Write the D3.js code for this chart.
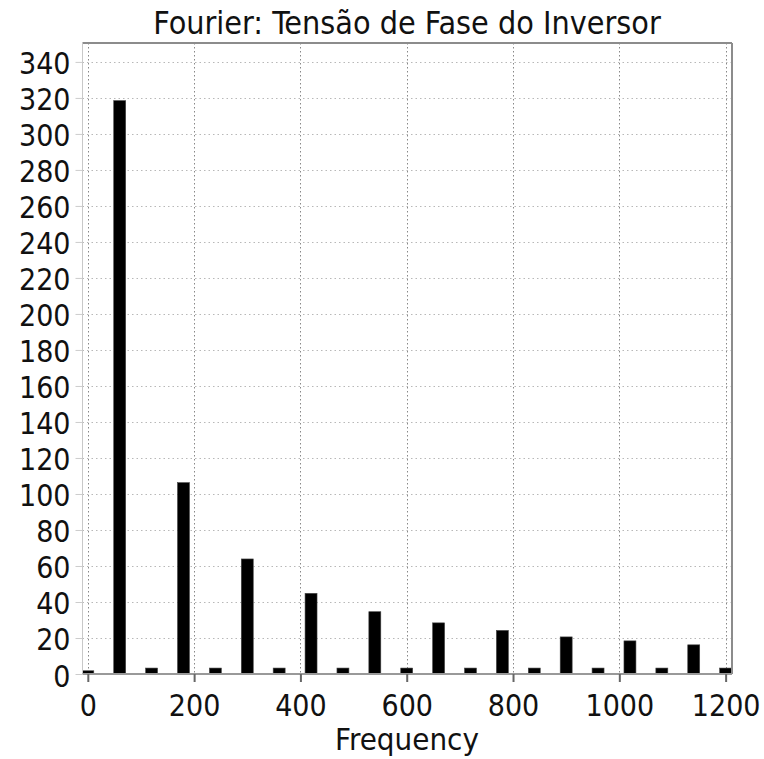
<!DOCTYPE html>
<html>
<head>
<meta charset="utf-8">
<script src="https://cdn.jsdelivr.net/npm/d3@7/dist/d3.min.js"></script>
<style>
  html, body { margin: 0; padding: 0; background: #fff; }
  svg { display: block; }
  text { font-family: "DejaVu Sans Condensed", "DejaVu Sans", sans-serif; fill: #111; }
</style>
</head>
<body>
<svg id="chart" width="764" height="759"></svg>
<script>
// Harmonic spectrum of the inverter phase voltage (amplitude per frequency bin)
const frequencies = [0, 60, 120, 180, 240, 300, 360, 420, 480, 540, 600, 660, 720, 780, 840, 900, 960, 1020, 1080, 1140, 1200];
const amplitudes  = [1.8, 318.5, 3.3, 106.3, 3.3, 63.9, 3.3, 44.8, 3.3, 34.6, 3.3, 28.4, 3.3, 24.2, 3.3, 20.6, 3.3, 18.4, 3.3, 16.2, 3.3];
const xTicks = [0, 200, 400, 600, 800, 1000, 1200];
const yTicks = d3.range(0, 341, 20);
const titleText = "Fourier: Tensão de Fase do Inversor";
const xLabel = "Frequency";

const svg = d3.select("#chart");
const plotL = 82.5, plotR = 732, plotT = 43, plotB = 674;

const x = d3.scaleLinear().domain([-10, 1212]).range([plotL, plotR]);
const y = d3.scaleLinear().domain([0, 350.5]).range([plotB, plotT]);
const barW = x(22.5) - x(0);
const fontStack = "DejaVu Sans Condensed, DejaVu Sans, sans-serif";

svg.append("defs").append("clipPath").attr("id", "plot")
  .append("rect").attr("x", plotL).attr("y", plotT).attr("width", plotR - plotL).attr("height", plotB - plotT);

// horizontal grid
svg.append("g").selectAll("line").data(yTicks.filter(d => d > 0)).join("line")
  .attr("x1", plotL).attr("x2", plotR)
  .attr("y1", d => Math.round(y(d)) + 0.5).attr("y2", d => Math.round(y(d)) + 0.5)
  .attr("stroke", "#b8b8b8").attr("stroke-width", 1).attr("stroke-dasharray", "1.5,3");

// vertical grid
svg.append("g").selectAll("line").data(xTicks).join("line")
  .attr("x1", d => Math.round(x(d)) + 0.5).attr("x2", d => Math.round(x(d)) + 0.5)
  .attr("y1", plotT).attr("y2", plotB)
  .attr("stroke", "#888").attr("stroke-width", 1).attr("stroke-dasharray", "1.5,2.5");

// bars
svg.append("g").attr("clip-path", "url(#plot)")
  .selectAll("rect").data(frequencies.map((f, i) => ({ f, a: amplitudes[i] }))).join("rect")
  .attr("x", d => x(d.f) - barW / 2)
  .attr("width", barW)
  .attr("y", d => y(d.a))
  .attr("height", d => y(0) - y(d.a))
  .attr("fill", "#000")
  .attr("stroke", "#444").attr("stroke-width", 0.6);

// frame
svg.append("line").attr("x1", plotL).attr("x2", plotR).attr("y1", plotT).attr("y2", plotT)
  .attr("stroke", "#8c8c8c").attr("stroke-width", 2);
svg.append("line").attr("x1", plotR).attr("x2", plotR).attr("y1", plotT).attr("y2", plotB)
  .attr("stroke", "#8c8c8c").attr("stroke-width", 2);
svg.append("line").attr("x1", plotL).attr("x2", plotL).attr("y1", plotT).attr("y2", plotB)
  .attr("stroke", "#c8c8c8").attr("stroke-width", 1);

// x axis
const xAxis = d3.axisBottom(x).tickValues(xTicks).tickFormat(d3.format("d"))
  .tickSize(8).tickPadding(13).tickSizeOuter(0);
const gx = svg.append("g").attr("transform", `translate(0,${plotB})`).call(xAxis);
gx.select(".domain").attr("stroke", "#999").attr("stroke-width", 2).attr("d", `M${plotL},0H${plotR}`);
gx.selectAll(".tick line").attr("stroke", "#666").attr("stroke-width", 2);
gx.selectAll(".tick text").attr("font-size", 30).attr("fill", "#111").attr("font-family", fontStack);

// y axis
const yAxis = d3.axisLeft(y).tickValues(yTicks).tickFormat(d3.format("d"))
  .tickSize(7).tickPadding(5).tickSizeOuter(0);
const gy = svg.append("g").attr("transform", `translate(${plotL},0)`).call(yAxis);
gy.select(".domain").remove();
gy.selectAll(".tick line").attr("stroke", "#ccc").attr("stroke-width", 1);
gy.selectAll(".tick text").attr("font-size", 30).attr("fill", "#111").attr("dy", "0.40em")
  .attr("font-family", fontStack);

// title and axis label
svg.append("text").attr("x", 407).attr("y", 34).attr("text-anchor", "middle")
  .attr("font-size", 32).text(titleText);
svg.append("text").attr("x", 407).attr("y", 750).attr("text-anchor", "middle")
  .attr("font-size", 31).text(xLabel);
</script>
</body>
</html>
